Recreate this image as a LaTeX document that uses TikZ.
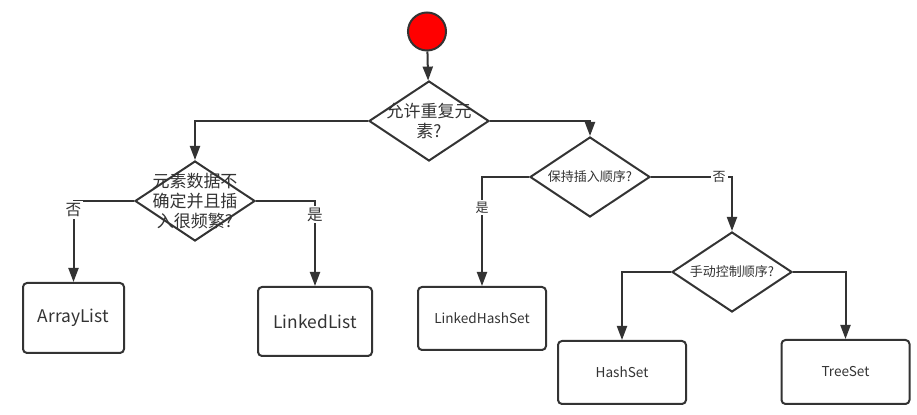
\documentclass[tikz,border=0pt]{standalone}
\usepackage{fontspec}
\setmainfont{Noto Sans CJK SC}
\usetikzlibrary{shapes.geometric,arrows.meta}
\definecolor{linegray}{HTML}{333333}
\definecolor{startred}{HTML}{FF0000}

\begin{document}
\begin{tikzpicture}[x=0.5pt, y=-0.5pt, color=linegray, line width=1pt,
		flow/.style={-{Triangle[length=7pt,width=5pt]}},
		decision/.style={shape=diamond, draw, inner sep=0pt, minimum width=60pt, minimum height=40pt},
		bigq/.style={align=center, font=\fontsize{8.5}{10}\selectfont},
		smallq/.style={font=\fontsize{6.5}{8}\selectfont},
		result/.style={draw, rounded corners=2pt, align=center},
		listname/.style={font=\fontsize{8.7}{10}\selectfont},
		setname/.style={font=\fontsize{6.8}{8}\selectfont},
		answer/.style={fill=white, inner sep=1pt}]
		\useasboundingbox (0,0) rectangle (917,415);
		\node[circle, draw, fill=startred, minimum size=19pt, inner sep=0pt] (start) at (427,31.5) {};
		\node[decision, label={[bigq]center:允许重复元\\素?}] (dup) at (429,121) {};
		\node[decision, label={[bigq]center:元素数据不\\确定并且插\\入很频繁?}] (freq) at (195,201) {};
		\node[decision, label={[smallq]center:保持插入顺序?}] (order) at (590,177) {};
		\node[decision, label={[smallq]center:手动控制顺序?}] (manual) at (732,272) {};
		\node[result, listname, minimum width=50.5pt, minimum height=35pt] (al) at (73.5,318) {ArrayList};
		\node[result, listname, minimum width=57pt, minimum height=34.5pt] (ll) at (315,321.5) {LinkedList};
		\node[result, setname, minimum width=64pt, minimum height=31.5pt] (lhs) at (482,318.5) {LinkedHashSet};
		\node[result, setname, minimum width=64pt, minimum height=31.5pt] (hs) at (622,372.5) {HashSet};
		\node[result, setname, minimum width=64pt, minimum height=32pt] (ts) at (845.5,372) {TreeSet};
		% connectors
		\draw[flow] (start) -- (dup);
		\draw[flow] (dup.west) -| (freq.north);
		\draw[flow] (dup.east) -| (order.north);
		\draw[flow] (freq.west) -| node[answer, pos=0.555, font=\fontsize{7.8}{9}\selectfont] {否} (al.north);
		\draw[flow] (freq.east) -| node[answer, pos=0.58, font=\fontsize{7.8}{9}\selectfont] {是} (ll.north);
		\draw[flow] (order.west) -| node[answer, pos=0.64, smallq] {是} (lhs.north);
		\draw[flow] (order.east) -| node[answer, pos=0.42, smallq] {否} (manual.north);
		\draw[flow] (manual.west) -| (hs.north);
		\draw[flow] (manual.east) -| (ts.north);
	\end{tikzpicture}
\end{document}
